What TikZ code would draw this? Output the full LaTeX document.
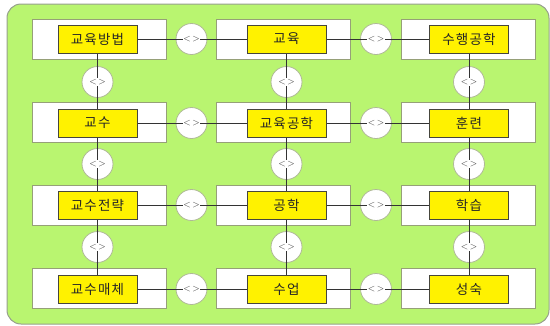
\documentclass[tikz,border=0pt]{standalone}
\usepackage{fontspec}
\newfontfamily\kr[LetterSpace=9]{Noto Sans CJK KR}
\definecolor{bggreen}{RGB}{185,245,112}
\definecolor{bgborder}{RGB}{150,160,140}
\definecolor{wborder}{RGB}{150,160,120}
\definecolor{cborder}{RGB}{175,185,150}
\definecolor{yborder}{RGB}{70,70,60}
\tikzset{
  outerbox/.style={draw=wborder, fill=white, line width=0.9pt, minimum width=134pt, minimum height=40pt, inner sep=0pt},
  term/.style={draw=yborder, fill=yellow, line width=1pt, minimum width=79pt, minimum height=28pt, inner sep=0pt, text=black!85, font=\kr\fontsize{13.5}{15}\selectfont},
  link/.style={draw=cborder, fill=white, circle, minimum size=31pt, inner sep=0pt, line width=0.8pt},
  conn/.style={draw=black!80, line width=0.8pt},
  sym/.style={fill=white, inner sep=0.8pt, text=black!80, font=\sffamily\fontsize{9.5}{10}\selectfont}
}
\begin{document}
\begin{tikzpicture}[x=1pt,y=-1pt]
\useasboundingbox (0,0) rectangle (550,325);
\draw[fill=bggreen, draw=bgborder, line width=1pt, rounded corners=14pt] (7,4) rectangle (549,324);
% white boxes
\foreach \r/\y in {1/39.5,2/122,3/205.5,4/288.5}{
  \node[outerbox] (w1\r) at (99,\y) {};
  \node[outerbox] (w2\r) at (283.5,\y) {};
  \node[outerbox] (w3\r) at (468.5,\y) {};
}
% terms
\node[term] (a1) at (97.5,39) {교육방법};
\node[term] (b1) at (286.5,39) {교육};
\node[term] (c1) at (469,39) {수행공학};
\node[term] (a2) at (97.5,123) {교수};
\node[term] (b2) at (286.5,123) {교육공학};
\node[term] (c2) at (469,123) {훈련};
\node[term] (a3) at (97.5,205) {교수전략};
\node[term] (b3) at (286.5,205) {공학};
\node[term] (c3) at (469,205) {학습};
\node[term] (a4) at (97.5,289) {교수매체};
\node[term] (b4) at (286.5,289) {수업};
\node[term] (c4) at (469,289) {성숙};
% horizontal links
\foreach \r in {1,2,3,4}{
  \node[link] (lab\r) at (191.5,0 |- a\r) {};
  \node[link] (lbc\r) at (376,0 |- b\r) {};
  \draw[conn] (a\r.east) -- (b\r.west);
  \draw[conn] (b\r.east) -- (c\r.west);
  \node[sym] at (lab\r) {<\,>};
  \node[sym] at (lbc\r) {<\,>};
}
% vertical links
\foreach \col/\x in {a/97.5,b/286.5,c/469}{
  \foreach \r/\n/\y in {1/2/82,2/3/164,3/4/247}{
    \node[link] (v\col\r) at (\x,\y) {};
    \draw[conn] (\col\r.south) -- (\col\n.north);
    \node[sym] at (v\col\r) {<\,>};
  }
}
\end{tikzpicture}
\end{document}
